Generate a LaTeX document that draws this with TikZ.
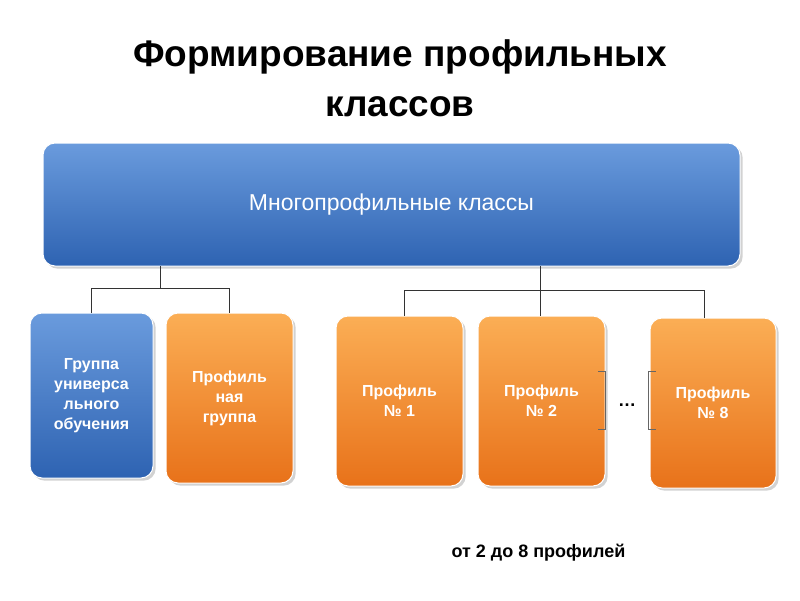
\documentclass[tikz,border=0pt]{standalone}
\usepackage{fontspec}
\setmainfont{Liberation Sans}
\usetikzlibrary{shadows}
\definecolor{bt}{HTML}{6A9BDD}\definecolor{bb}{HTML}{2E63B2}
\definecolor{ot}{HTML}{FBAE55}\definecolor{ob}{HTML}{E8721A}
\tikzset{x=1pt,y=-1pt,
 box/.style={rounded corners=12pt,draw=white,line width=1pt,drop shadow={opacity=0.35},text=white,font=\bfseries\fontsize{16}{20}\selectfont,align=center,inner sep=0pt},
 bluebox/.style={box,top color=bt,bottom color=bb},
 orbox/.style={box,top color=ot,bottom color=ob},
 ln/.style={line width=0.8pt,black!80}}
\begin{document}
\begin{tikzpicture}
\fill[white] (0,0) rectangle (800,600);
\node[font=\bfseries\fontsize{37}{50}\selectfont,align=center] (title) at (400,78) {Формирование профильных\\классов};
\node[bluebox,minimum width=697pt,minimum height=123pt,font=\fontsize{23}{28}\selectfont] (top) at (391.5,204.5) {Многопрофильные классы};
\node[bluebox,minimum width=123pt,minimum height=165pt] (g) at (91.5,395.5) {Группа\\универса\\льного\\обучения};
\node[orbox,minimum width=127pt,minimum height=170pt] (p) at (229.5,398) {Профиль\\ная\\группа};
\node[orbox,minimum width=127pt,minimum height=170pt] (p1) at (399.5,401) {Профиль\\№ 1};
\node[orbox,minimum width=127pt,minimum height=170pt] (p2) at (541.5,401) {Профиль\\№ 2};
\node[orbox,minimum width=126pt,minimum height=170pt] (p8) at (713,403) {Профиль\\№ 8};
\coordinate (a) at (160,288);\coordinate (b) at (540,290);
\draw[ln] (160,266) -- (a);
\draw[ln] (g.north |- a) -- (p.north |- a);
\draw[ln] (g.north |- a) -- (g.north);
\draw[ln] (p.north |- a) -- (p.north);
\draw[ln] (540,266) -- (b);
\draw[ln] (404,290) -- (704,290);
\draw[ln] (404,290) -- (404,316);
\draw[ln] (540,290) -- (540,316);
\draw[ln] (704,290) -- (704,318);
\draw[black!60,line width=0.6pt] (598,371) -- (605,371) -- (605,429) -- (598,429);
\draw[black!60,line width=0.6pt] (656,371) -- (648,371) -- (648,429) -- (656,429);
\node[font=\bfseries\fontsize{18}{20}\selectfont] (dots) at (627,405) {…};
\node[font=\bfseries\fontsize{18}{22}\selectfont,anchor=west] (foot) at (448,553) {от 2 до 8 профилей};
\end{tikzpicture}
\end{document}
